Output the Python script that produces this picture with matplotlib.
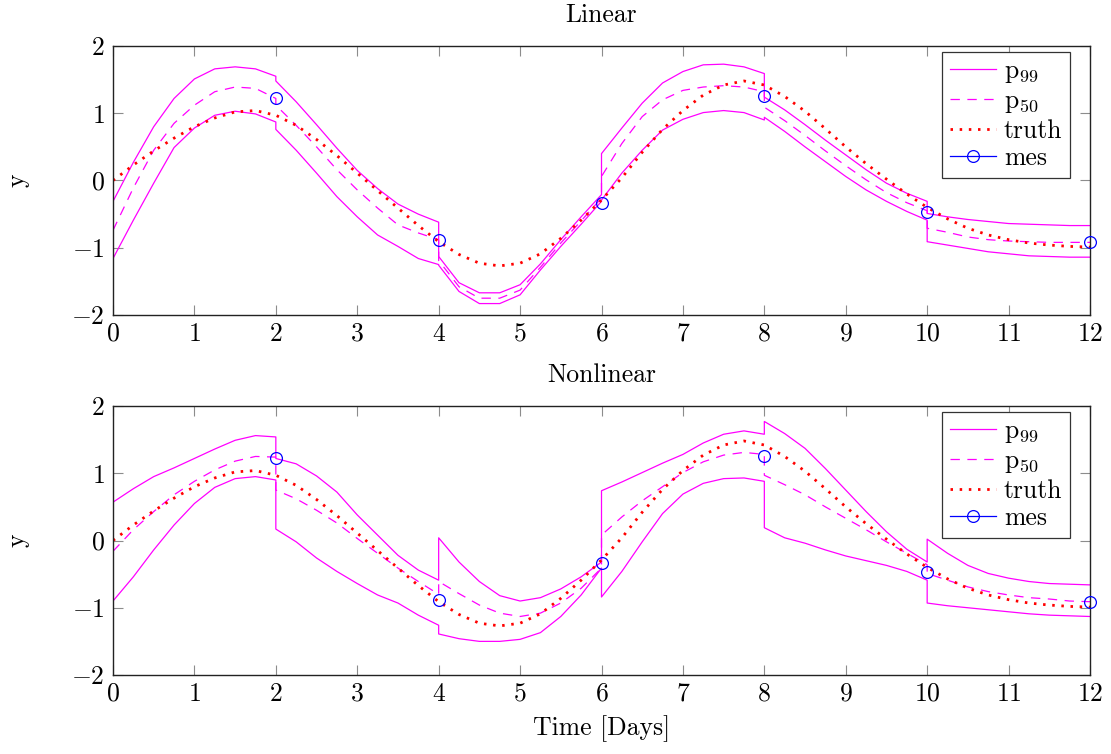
import numpy as np
import matplotlib
matplotlib.use("Agg")
import matplotlib.pyplot as plt
from matplotlib.lines import Line2D

plt.rcParams["font.family"] = ["cmr10", "DejaVu Serif"]
plt.rcParams["mathtext.fontset"] = "cm"
plt.rcParams["axes.formatter.use_mathtext"] = True

# ---- data -----------------------------------------------------------------
# each estimation window spans two days, sampled every 6 hours
window_starts = [0, 2, 4, 6, 8, 10]
window_offsets = [0, 0.25, 0.5, 0.75, 1.0, 1.25, 1.5, 1.75, 2.0]

truth_t = [0, 0.25, 0.5, 0.75, 1.0, 1.25, 1.5, 1.75, 2.0, 2.25, 2.5, 2.75,
           3.0, 3.25, 3.5, 3.75, 4.0, 4.25, 4.5, 4.75, 5.0, 5.25, 5.5, 5.75,
           6.0, 6.25, 6.5, 6.75, 7.0, 7.25, 7.5, 7.75, 8.0, 8.25, 8.5, 8.75,
           9.0, 9.25, 9.5, 9.75, 10.0, 10.25, 10.5, 10.75, 11.0, 11.25, 11.5,
           11.75, 12.0]
truth_y = [0.00, 0.23, 0.44, 0.63, 0.80, 0.93, 1.02, 1.04, 0.97, 0.82, 0.61, 0.37,
           0.11, -0.15, -0.41, -0.67, -0.91, -1.10, -1.23, -1.27, -1.23, -1.09,
           -0.86, -0.59, -0.29, 0.04, 0.42, 0.76, 1.04, 1.27, 1.42, 1.48, 1.42,
           1.25, 1.03, 0.77, 0.50, 0.25, 0.02, -0.20, -0.40, -0.57, -0.71, -0.81,
           -0.88, -0.93, -0.96, -0.98, -0.99]

mes_t = [2, 4, 6, 8, 10, 12]
mes_y = [1.23, -0.89, -0.33, 1.26, -0.47, -0.92]

# Linear filter: 99% band limits and median, one row per window
lin_p99_hi = [
    [-0.31, 0.27, 0.80, 1.22, 1.51, 1.66, 1.69, 1.66, 1.55],
    [1.48, 1.17, 0.83, 0.48, 0.15, -0.12, -0.35, -0.50, -0.62],
    [-1.13, -1.52, -1.67, -1.67, -1.55, -1.24, -0.88, -0.54, -0.21],
    [0.40, 0.78, 1.15, 1.45, 1.62, 1.72, 1.73, 1.69, 1.59],
    [1.24, 1.05, 0.83, 0.60, 0.38, 0.16, -0.04, -0.19, -0.31],
    [-0.49, -0.54, -0.58, -0.61, -0.64, -0.65, -0.66, -0.67, -0.67],
]
lin_p99_lo = [
    [-1.16, -0.59, -0.04, 0.49, 0.78, 0.97, 1.03, 0.99, 0.87],
    [0.76, 0.45, 0.11, -0.24, -0.54, -0.81, -0.98, -1.16, -1.25],
    [-1.26, -1.65, -1.83, -1.83, -1.70, -1.33, -0.98, -0.65, -0.31],
    [-0.29, 0.11, 0.45, 0.75, 0.91, 1.01, 1.04, 1.01, 0.90],
    [0.94, 0.73, 0.50, 0.28, 0.06, -0.14, -0.31, -0.46, -0.59],
    [-0.91, -0.96, -1.01, -1.06, -1.09, -1.12, -1.13, -1.14, -1.14],
]
lin_p50 = [
    [-0.74, -0.11, 0.45, 0.85, 1.12, 1.32, 1.39, 1.37, 1.22],
    [1.12, 0.82, 0.50, 0.16, -0.14, -0.41, -0.66, -0.78, -0.88],
    [-1.19, -1.58, -1.75, -1.75, -1.63, -1.29, -0.93, -0.60, -0.26],
    [0.06, 0.55, 0.95, 1.20, 1.34, 1.39, 1.41, 1.39, 1.32],
    [1.09, 0.89, 0.67, 0.44, 0.22, 0.01, -0.18, -0.33, -0.45],
    [-0.71, -0.77, -0.84, -0.88, -0.90, -0.91, -0.92, -0.92, -0.92],
]

# Nonlinear filter
nl_p99_hi = [
    [0.57, 0.77, 0.95, 1.08, 1.22, 1.36, 1.49, 1.56, 1.54],
    [1.22, 1.14, 0.96, 0.72, 0.38, 0.08, -0.22, -0.44, -0.59],
    [0.04, -0.32, -0.61, -0.82, -0.90, -0.85, -0.72, -0.54, -0.32],
    [0.74, 0.87, 1.01, 1.15, 1.28, 1.45, 1.58, 1.63, 1.58],
    [1.77, 1.59, 1.37, 1.07, 0.75, 0.43, 0.13, -0.13, -0.32],
    [0.02, -0.19, -0.37, -0.49, -0.56, -0.61, -0.64, -0.65, -0.66],
]
nl_p99_lo = [
    [-0.90, -0.54, -0.14, 0.23, 0.55, 0.79, 0.92, 0.95, 0.90],
    [0.17, -0.02, -0.26, -0.46, -0.64, -0.81, -0.93, -1.11, -1.26],
    [-1.39, -1.46, -1.50, -1.50, -1.47, -1.37, -1.13, -0.81, -0.41],
    [-0.84, -0.46, -0.02, 0.40, 0.69, 0.85, 0.92, 0.93, 0.88],
    [0.19, 0.04, -0.04, -0.14, -0.23, -0.30, -0.37, -0.46, -0.59],
    [-0.93, -0.97, -1.00, -1.03, -1.06, -1.09, -1.11, -1.12, -1.13],
]
nl_p50 = [
    [-0.16, 0.16, 0.43, 0.68, 0.88, 1.05, 1.18, 1.25, 1.24],
    [0.75, 0.62, 0.45, 0.26, 0.03, -0.19, -0.41, -0.61, -0.80],
    [-0.61, -0.79, -0.96, -1.08, -1.13, -1.08, -0.93, -0.71, -0.41],
    [0.08, 0.35, 0.59, 0.80, 1.01, 1.17, 1.27, 1.31, 1.28],
    [0.97, 0.83, 0.68, 0.50, 0.33, 0.16, -0.02, -0.19, -0.36],
    [-0.49, -0.59, -0.69, -0.76, -0.81, -0.85, -0.87, -0.90, -0.91],
]

x_ticks = list(range(0, 13))
y_ticks = [-2, -1, 0, 1, 2]

# ---- styling ----------------------------------------------------------------
FS = 18.5
MAGENTA = "#ff00ff"
P99_STYLE = dict(color=MAGENTA, lw=0.9, ls="-")
P50_STYLE = dict(color=MAGENTA, lw=0.9, ls=(0, (7.5, 6.0)))
TRUTH_STYLE = dict(color="red", lw=2.0, ls=(0, (0.9, 2.4)), dash_capstyle="butt")
MES_STYLE = dict(color="blue", marker="o", ms=8.5, mfc="none", mec="blue", mew=0.9)


def window_series(rows):
    """Concatenate per-window rows; repeated boundary times give the jumps."""
    t, y = [], []
    for start, row in zip(window_starts, rows):
        t.extend(start + o for o in window_offsets)
        y.extend(row)
    return np.array(t), np.array(y)


def draw_panel(ax, title, hi, lo, mid):
    t, yh = window_series(hi)
    _, yl = window_series(lo)
    _, ym = window_series(mid)
    ax.plot(t, yh, **P99_STYLE)
    ax.plot(t, yl, **P99_STYLE)
    ax.plot(t, ym, **P50_STYLE)
    ax.plot(truth_t, truth_y, **TRUTH_STYLE)
    ax.plot(mes_t, mes_y, ls="none", clip_on=False, zorder=5, **MES_STYLE)

    ax.set_xlim(0, 12)
    ax.set_ylim(-2, 2)
    ax.set_xticks(x_ticks)
    ax.set_yticks(y_ticks)
    ax.tick_params(direction="in", length=7.5, width=0.8, color="#8c8c8c",
                   top=True, right=True, labelsize=FS)
    ax.tick_params(axis="x", pad=5)
    ax.tick_params(axis="y", pad=6)
    for s in ax.spines.values():
        s.set_linewidth(1.0)
        s.set_color("#222222")
    ax.set_title(title, fontsize=FS, pad=17)
    ax.set_ylabel("y", fontsize=FS)
    ax.yaxis.set_label_coords(-0.085, 0.5)

    handles = [
        Line2D([], [], **P99_STYLE),
        Line2D([], [], **P50_STYLE),
        Line2D([], [], **TRUTH_STYLE),
        Line2D([], [], lw=0.9, **MES_STYLE),
    ]
    labels = [r"p$_{99}$", r"p$_{50}$", "truth", "mes"]
    leg = ax.legend(handles, labels, loc="upper right",
                    bbox_to_anchor=(0.9795, 0.9777), borderaxespad=0,
                    fontsize=FS, fancybox=False, framealpha=1,
                    edgecolor="#333333", handlelength=1.8,
                    handletextpad=0.3, labelspacing=0.15, borderpad=0.3)
    leg.get_frame().set_linewidth(0.9)


fig = plt.figure(figsize=(11.11, 7.54), dpi=100)
W, H = 1111, 754
ax_lin = fig.add_axes([113 / W, 1 - 315 / H, 977 / W, 269 / H])
ax_nl = fig.add_axes([113 / W, 1 - 675 / H, 977 / W, 269 / H])

draw_panel(ax_lin, "Linear", lin_p99_hi, lin_p99_lo, lin_p50)
draw_panel(ax_nl, "Nonlinear", nl_p99_hi, nl_p99_lo, nl_p50)

ax_nl.set_xlabel("Time [Days]", fontsize=FS)
ax_nl.xaxis.label.set_va("baseline")
ax_nl.xaxis.set_label_coords(0.5, -0.223)

fig.savefig("out.png", dpi=100)
